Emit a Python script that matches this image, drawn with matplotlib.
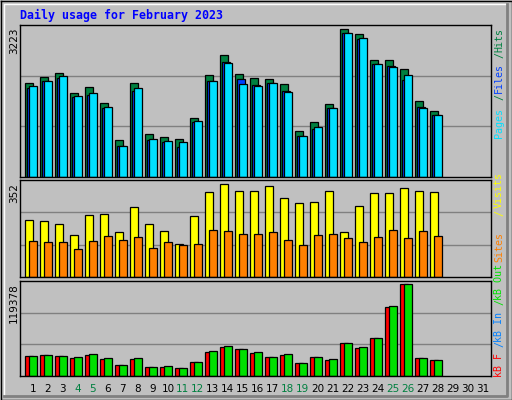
import matplotlib
matplotlib.use('Agg')
import matplotlib.pyplot as plt
from matplotlib.transforms import blended_transform_factory
from matplotlib.lines import Line2D

days = list(range(1, 32))
weekend = [4, 5, 11, 12, 18, 19, 25, 26]

hits = [2047, 2178, 2265, 1830, 1960, 1612, 806, 2047, 937, 871, 828, 1285, 2222, 2657,
        2243, 2156, 2134, 2026, 1002, 1198, 1590, 3223, 3115, 2548, 2548, 2352, 1655, 1437]
files = [1938, 2091, 2156, 1742, 1786, 1503, 675, 1873, 806, 762, 653, 1198, 2091, 2505,
         2134, 2004, 2047, 1873, 893, 1045, 1503, 3136, 3006, 2461, 2418, 2113, 1525, 1350]
pages = [1982, 2091, 2200, 1764, 1830, 1525, 675, 1938, 828, 784, 762, 1220, 2091, 2483,
         2026, 1982, 2047, 1851, 893, 1089, 1503, 3136, 3027, 2461, 2396, 2222, 1503, 1350]

visits = [217, 212, 200, 158, 234, 238, 170, 265, 200, 174, 124, 231, 322, 352,
          326, 329, 345, 299, 280, 284, 329, 170, 269, 318, 318, 337, 326, 322]
sites = [136, 132, 132, 105, 136, 155, 139, 151, 109, 132, 120, 124, 177, 174,
         162, 162, 170, 139, 120, 158, 162, 147, 132, 151, 177, 147, 174, 155]

kb_in = [25650, 26950, 25650, 23045, 26950, 21743, 13931, 21743, 11327, 11327, 10025, 17837,
         30857, 37367, 34763, 29555, 24347, 26950, 16535, 24347, 20441, 42575, 36065, 49085,
         89447, 119378, 23045, 20441]
kb_out = [25650, 26950, 25650, 24347, 28253, 23045, 13931, 23045, 11327, 12629, 10025, 17837,
          32159, 38669, 34763, 30857, 24347, 28253, 16535, 24347, 21743, 42575, 37367, 49085,
          90749, 119378, 23045, 20441]

W, H = 512, 400
BG = '#c0c0c0'
fig = plt.figure(figsize=(W / 100, H / 100), dpi=100, facecolor=BG)


def px_axes(l, t, r, b):
    return fig.add_axes([l / W, 1 - b / H, (r - l) / W, (b - t) / H])


def fy(y):
    return 1 - y / H


def setup(ax, top):
    ax.set_facecolor(BG)
    ax.set_xlim(-0.33, 31.07)
    ax.set_ylim(0, top)
    ax.set_xticks([])
    ax.set_yticks([])
    for s in ax.spines.values():
        s.set_color('black')
        s.set_linewidth(1)
    for k in (1 / 3, 2 / 3):
        ax.axhline(top * k, color='#808080', lw=1, zorder=0)


n = len(hits)
x = list(range(n))
ek = dict(align='edge', edgecolor='black', linewidth=0.9)

# hits / files / pages
ax1 = px_axes(20, 25, 491, 177)
setup(ax1, 3310)
ax1.bar(x, hits, width=0.55, color='#008040', **ek)
ax1.bar([i + 0.13 for i in x], files, width=0.55, color='#0040ff', **ek)
ax1.bar([i + 0.27 for i in x], pages, width=0.53, color='#00e0ff', **ek)

# visits / sites
ax2 = px_axes(20, 180, 491, 277)
setup(ax2, 369)
ax2.bar(x, visits, width=0.55, color='#ffff00', **ek)
ax2.bar([i + 0.29 for i in x], sites, width=0.5, color='#ff8000', **ek)

# kB
ax3 = px_axes(20, 281, 491, 376)
setup(ax3, 123700)
ax3.bar(x, kb_in, width=0.55, color='#ff0000', **ek)
ax3.bar([i + 0.29 for i in x], kb_out, width=0.5, color='#00e000', **ek)

# day labels
tr = blended_transform_factory(ax3.transData, fig.transFigure)
for i, d in enumerate(days):
    c = '#008040' if d in weekend else 'black'
    ax3.text(i + 0.53, fy(389), str(d), transform=tr, ha='center', va='center',
             fontsize=7.5, color=c, clip_on=False)

# title
fig.text(20 / W, fy(15), 'Daily usage for February 2023', color='#0000ff',
         family='DejaVu Sans Mono', fontweight='bold', fontsize=8.4, va='center')

# left max labels
for lab, yt in [('3223', 27), ('352', 183), ('119378', 283)]:
    fig.text(14 / W, fy(yt), lab, rotation=90, ha='center', va='top',
             fontsize=7.5, family='DejaVu Sans')

# right legends (bottom y, text, colour)
mono = dict(rotation=90, ha='center', va='bottom', fontsize=7.2, family='DejaVu Sans Mono')
right = [
    (138, 'Pages', '#00e0ff'), (100, '/', '#008040'), (93, 'Files', '#0040ff'),
    (58, '/', '#008040'), (52, 'Hits', '#008040'),
    (262, 'Sites', '#ff8000'), (216, '/', '#ffff00'), (208, 'Visits', '#ffff00'),
    (377, 'kB F', '#ff0000'), (347, '/', '#0080ff'), (342, 'kB In', '#0080ff'),
    (305, '/', '#00e000'), (300, 'kB Out', '#00e000'),
]
for yb, t, c in right:
    fig.text(499 / W, fy(yb), t, color=c, **mono)

# 3d frame
def fline(xs, ys, c, lw=1):
    fig.add_artist(Line2D([v / W for v in xs], [fy(v) for v in ys], color=c, lw=lw,
                          transform=fig.transFigure))

fline([0.5, 511.5, 511.5, 0.5, 0.5], [0.5, 0.5, 399.5, 399.5, 0.5], 'black')
fline([4, 4, 507], [396, 4, 4], 'white')
fline([507, 507, 4], [4, 396, 396], '#808080', 2)

fig.savefig('out.png', dpi=100, facecolor=BG)
